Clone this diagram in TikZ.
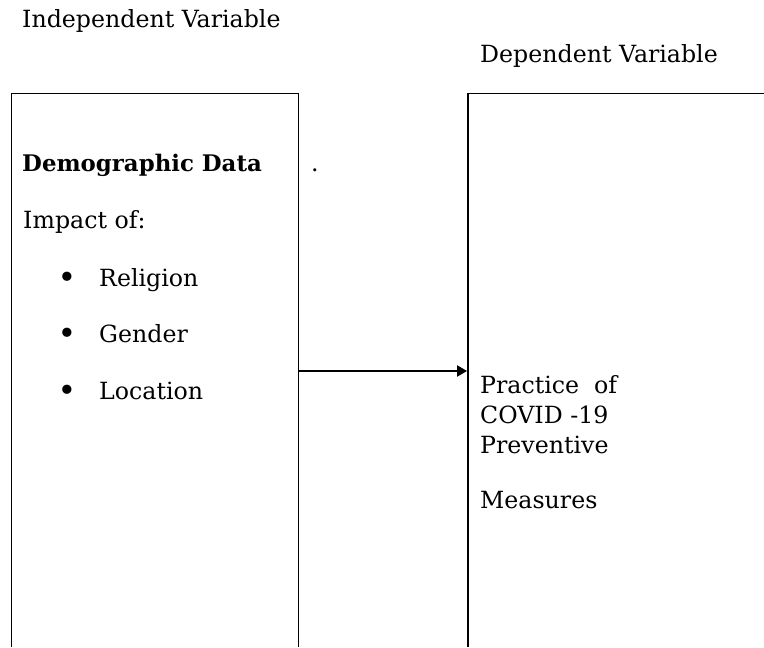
\documentclass[tikz,border=0pt]{standalone}
\usepackage{fontspec}
\setmainfont{DejaVu Serif}
\usepackage{tikz}
\usetikzlibrary{arrows.meta}
\tikzset{
  frame/.style={draw=black, line width=0.8pt},
  heavy/.style={draw=black, line width=2pt},
  link/.style={draw=black, line width=1pt, -{Triangle[length=0.3cm, width=0.34cm]}},
  lab/.style={anchor=base west, inner sep=0pt, font=\fontsize{20.2}{24}\selectfont},
  labb/.style={lab, font=\fontsize{19.5}{24}\selectfont\bfseries},
  bul/.style={anchor=base, inner sep=0pt, font=\fontsize{27}{30}\selectfont},
}
\begin{document}
\begin{tikzpicture}[x=0.03cm, y=-0.03cm]
  \useasboundingbox (0,0) rectangle (764,647);
  % column frames
  \draw[frame] (11,647) -- (11,93) -- (298,93);
  \draw[frame] (298,93) -- (298,647);
  \draw[frame] (468,93) -- (764,93);
  \draw[heavy] (468,93) -- (468,647);
  % headings
  \node[lab] (iv) at (22,28) {Independent Variable};
  \node[lab] (dv) at (480,62) {Dependent Variable};
  % independent side
  \node[labb] (demo) at (22,171) {Demographic Data};
  \node[lab] (dot) at (311,171) {.};
  \node[lab] (imp) at (23,228) {Impact of:};
  \foreach \y/\t/\n in {286/Religion/rel, 342/Gender/gen, 399/Location/loc}{
    \node[bul] (\n b) at (67,\y+2) {•};
    \node[lab] (\n) at (99,\y) {\t};
  }
  % dependent side
  \node[lab] (pr1) at (480,393) {Practice\ \ of};
  \node[lab] (pr2) at (480,423) {COVID -19};
  \node[lab] (pr3) at (480,453) {Preventive};
  \node[lab] (pr4) at (480,508) {Measures};
  % link
  \coordinate (ivR) at (298,371);
  \coordinate (dvL) at (467,371);
  \draw[link] (ivR) -- (dvL);
\end{tikzpicture}
\end{document}
